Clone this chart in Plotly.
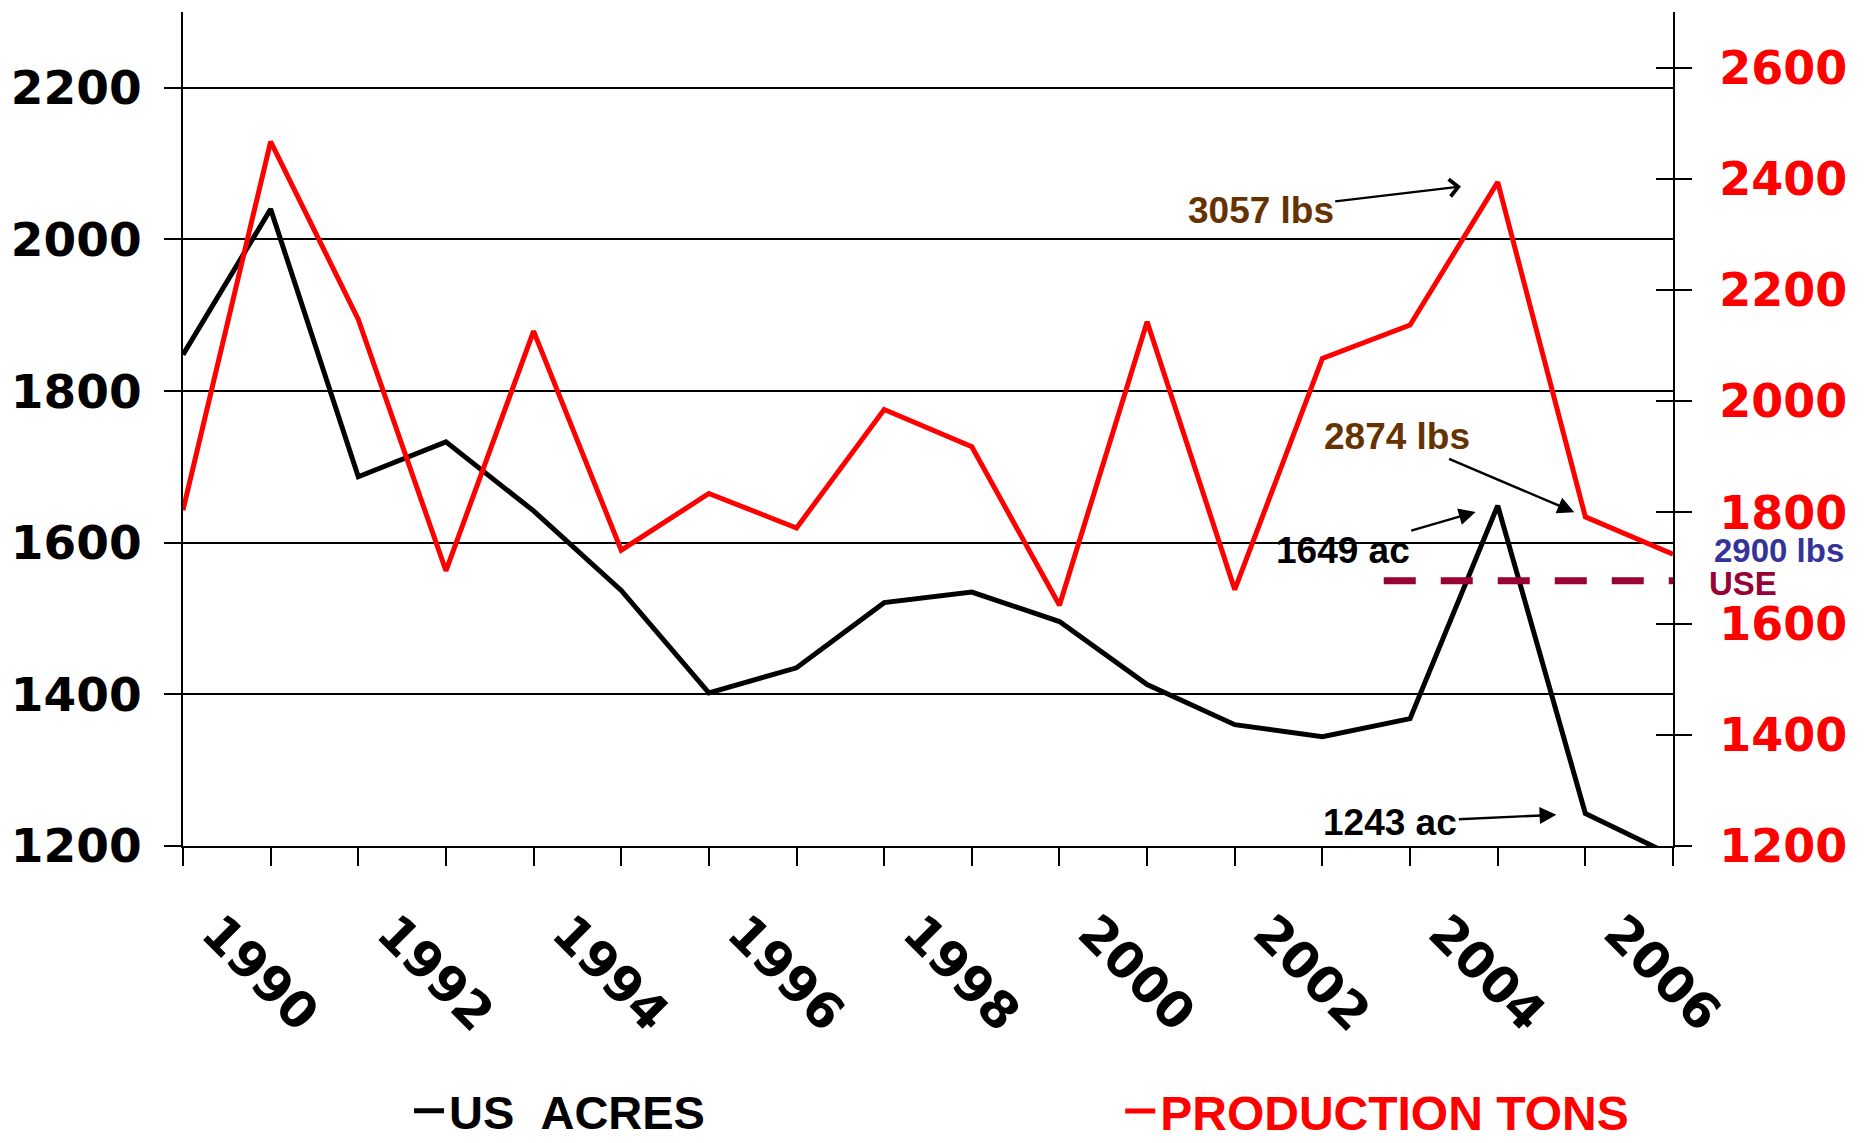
import plotly.graph_objects as go

# ---------------- data ----------------
years = list(range(1989, 2007))
acres = [1848, 2040, 1687, 1733, 1642, 1537, 1402, 1435, 1521, 1535,
         1496, 1413, 1360, 1344, 1368, 1649, 1243, 1187]
tons = [1804, 2467, 2147, 1695, 2126, 1732, 1834, 1772, 1985, 1918,
        1633, 2143, 1661, 2077, 2137, 2394, 1792, 1725]
x_ticktext = [str(y) if y % 2 == 0 else "" for y in years]
left_ticks = [1200, 1400, 1600, 1800, 2000, 2200]
right_ticks = [1200, 1400, 1600, 1800, 2000, 2200, 2400, 2600]
use_x = [2002.7, 2006]
use_level = 1550

# ---------------- figure ----------------
fig = go.Figure()
fig.add_trace(go.Scatter(x=years, y=acres, mode="lines", name="US\u00a0\u00a0ACRES",
                         line=dict(color="black", width=5), yaxis="y", legend="legend",
                         hoverinfo="x+y"))
fig.add_trace(go.Scatter(x=years, y=tons, mode="lines", name="PRODUCTION TONS",
                         line=dict(color="#FF0000", width=5), yaxis="y2", legend="legend2",
                         hoverinfo="x+y"))
fig.add_trace(go.Scatter(x=use_x, y=[use_level] * len(use_x), mode="lines",
                         line=dict(color="#990033", width=7, dash="32px,25px"),
                         yaxis="y", showlegend=False, hoverinfo="skip"))
# invisible trace anchoring the inner-tick overlay axis
fig.add_trace(go.Scatter(x=years, y=tons, mode="lines", line=dict(width=0),
                         opacity=0, yaxis="y3", showlegend=False, hoverinfo="skip"))

ann_font = "Liberation Sans, Arial, sans-serif"
idx = {y: i for i, y in enumerate(years)}
annotations = [
    dict(x=2004, y=tons[idx[2004]], yref="y2", text="<b>3057 lbs</b>",
         font=dict(color="#663300", size=37, family=ann_font),
         showarrow=True, arrowhead=4, arrowsize=1.4, arrowwidth=2.4, arrowcolor="black",
         ax=-237, ay=28, standoff=37),
    dict(x=2005, y=tons[idx[2005]], yref="y2", text="<b>2874 lbs</b>",
         font=dict(color="#663300", size=37, family=ann_font),
         showarrow=True, arrowhead=2, arrowsize=1.4, arrowwidth=2.4, arrowcolor="black",
         ax=-188, ay=-80, standoff=12),
    dict(x=2004, y=acres[idx[2004]], yref="y", text="<b>1649 ac</b>",
         font=dict(color="black", size=37, family=ann_font),
         showarrow=True, arrowhead=2, arrowsize=1.4, arrowwidth=2.4, arrowcolor="black",
         ax=-155, ay=45, standoff=23),
    dict(x=2005, y=acres[idx[2005]], yref="y", text="<b>1243 ac</b>",
         font=dict(color="black", size=37, family=ann_font),
         showarrow=True, arrowhead=2, arrowsize=1.4, arrowwidth=2.4, arrowcolor="black",
         ax=-195, ay=9, standoff=29),
    dict(x=2006, y=tons[idx[2006]], yref="y2", text="<b>2900 lbs</b>",
         font=dict(color="#333399", size=33, family=ann_font),
         showarrow=False, xshift=106, yshift=4, borderpad=0),
    dict(x=2006, y=use_level, yref="y", text="<b>USE</b>",
         font=dict(color="#990033", size=33, family=ann_font),
         showarrow=False, xshift=70, yshift=-3, borderpad=0),
    dict(x=2006, y=acres[idx[2006]], yref="y", text="<b>1187 ac</b>",
         font=dict(color="#333399", size=34, family=ann_font),
         showarrow=False, xshift=69, yshift=-31),
]
for a in annotations:
    a["xref"] = "x"

axis_font = "DejaVu Sans, Verdana, sans-serif"
fig.update_layout(
    width=1871, height=1143,
    margin=dict(l=183, r=198, t=12, b=297, autoexpand=False),
    plot_bgcolor="white", paper_bgcolor="white",
    showlegend=True,
    xaxis=dict(range=[1989, 2006], tickmode="array", tickvals=years, ticktext=x_ticktext,
               ticks="outside", ticklen=18, tickwidth=2, tickcolor="black",
               showline=True, linecolor="black", linewidth=2, showgrid=False, zeroline=False,
               tickangle=45,
               tickfont=dict(family=axis_font, size=50, color="black", weight="bold"),
               ticklabelshift=-54, ticklabelstandoff=17),
    yaxis=dict(range=[1200, 2300], tickmode="array", tickvals=left_ticks,
               ticks="outside", ticklen=17, tickwidth=2, tickcolor="black",
               showline=True, linecolor="black", linewidth=2,
               showgrid=True, gridcolor="black", gridwidth=2, zeroline=False,
               tickfont=dict(family=axis_font, size=47, color="black", weight="bold"),
               ticklabelstandoff=13),
    yaxis2=dict(range=[1200, 2700], overlaying="y", side="right", anchor="x",
                tickmode="array", tickvals=right_ticks,
                ticks="outside", ticklen=17, tickwidth=2, tickcolor="black",
                showline=True, linecolor="black", linewidth=2,
                showgrid=False, zeroline=False,
                tickfont=dict(family=axis_font, size=46, color="#FF0000", weight="bold"),
                ticklabelstandoff=18),
    yaxis3=dict(range=[1200, 2700], overlaying="y", side="right", anchor="x",
                tickmode="array", tickvals=right_ticks,
                ticks="inside", ticklen=17, tickwidth=2, tickcolor="black",
                showline=False, showgrid=False, zeroline=False, showticklabels=False),
    legend=dict(x=0.1517, y=-0.318, xanchor="left", yanchor="middle",
                orientation="h", bgcolor="rgba(0,0,0,0)",
                font=dict(family=ann_font, size=47, color="black", weight="bold")),
    legend2=dict(x=0.629, y=-0.318, xanchor="left", yanchor="middle",
                 orientation="h", bgcolor="rgba(0,0,0,0)",
                 font=dict(family=ann_font, size=48, color="#FF0000", weight="bold")),
    annotations=annotations,
)

fig.write_html("out.html", config={"displayModeBar": False},
               post_script="document.body.style.margin='0px';")
